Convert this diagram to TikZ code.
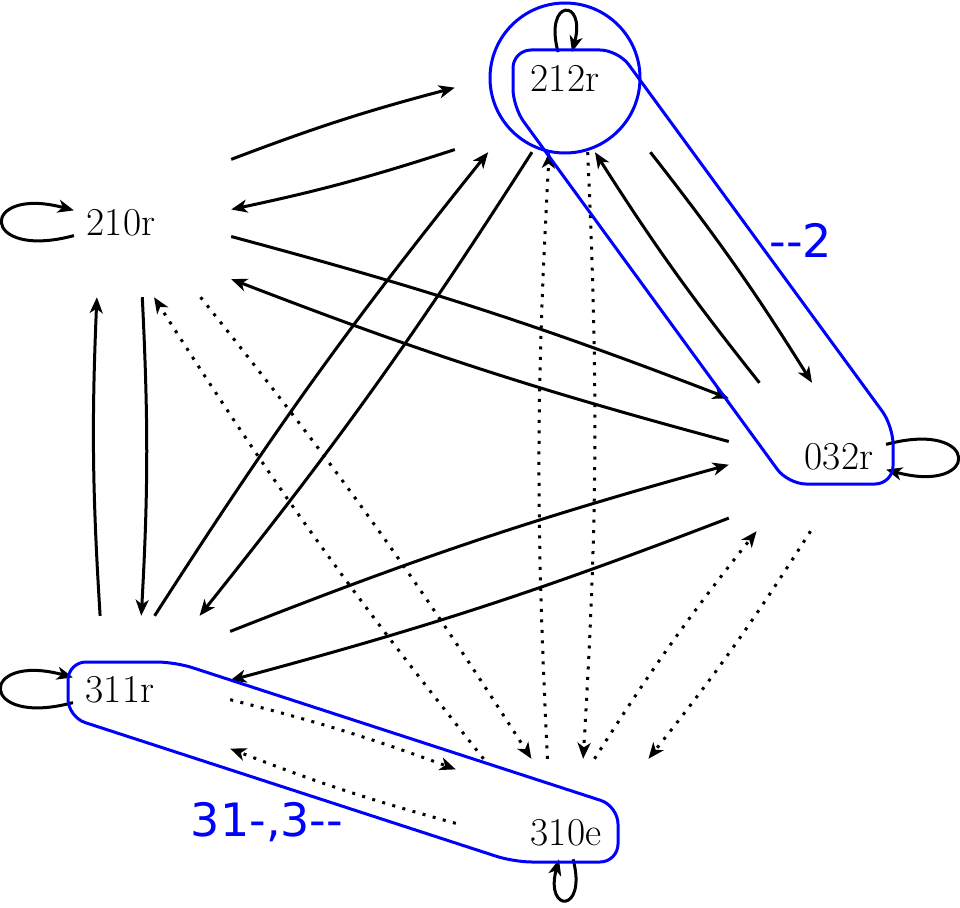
\documentclass[tikz,border=0pt]{standalone}
\usepackage{fontspec}
\newfontfamily\blufont{DejaVu Sans}
\usetikzlibrary{arrows.meta}
\begin{document}
\begin{tikzpicture}[x=1pt,y=-1pt,
  >={Stealth[length=16pt,width=13pt,inset=4.5pt]},
  st/.style={inner sep=12.7pt, font=\fontsize{39.5}{47}\selectfont},
  big/.style={draw=none, minimum width=220pt, minimum height=148pt, inner sep=0pt},
  arr/.style={line width=3pt, ->},
  dot/.style={arr, dash pattern=on 3pt off 7.5pt},
  hull/.style={draw=blue, line width=3pt, rounded corners=18pt},
  lbl/.style={text=blue, inner sep=0pt, font=\blufont\fontsize{46}{55}\selectfont},
  bl/.style={bend left=3},
  every loop/.style={looseness=10, min distance=56pt}
]
\useasboundingbox (0,0) rectangle (960,907);
% state labels
\node[st] (t212) at (565,78) {212r};
\node[st] (t210) at (121,223) {210r};
\node[st] (t032) at (839,457) {032r};
\node[st] (t311) at (120,690) {311r};
\node[st] (t310) at (566,833) {310e};
% invisible boxes used as edge ends
\node[big] (b212) at (t212.center) {};
\node[big] (b210) at (t210.center) {};
\node[big] (b032) at (t032.center) {};
\node[big] (b311) at (t311.center) {};
\node[big] (b310) at (t310.center) {};
% solid transitions
\draw[arr] (b210.30) to[bl] (b212.185);
\draw[arr] (b212.213) to[bl] (b210.7);
\draw[arr] (b210.-7) to[bl] (b032.152);
\draw[arr] (b032.172) to[bl] (b210.-27);
\draw[arr] (b210.-74) to[bl] (b311.74);
\draw[arr] (b311.105) to[bl] (b210.-108);
\draw[arr] (b212.-41) to[bl] (b032.110);
\draw[arr] (b032.137) to[bl] (b212.-68);
\draw[arr] (b212.246) to[bl] (b311.43);
\draw[arr] (b311.65) to[bl] (b212.224);
\draw[arr] (b032.209) to[bl] (b311.5);
\draw[arr] (b311.28) to[bl] (b032.184);
% dotted transitions
\draw[dot] (b310.138) to[bl] (b210.-66);
\draw[dot] (b210.-43) to[bl] (b310.115);
\draw[dot] (b310.104) to[bl] (b212.-102);
\draw[dot] (b212.-73) to[bl] (b310.77);
\draw[dot] (b310.69) to[bl] (b032.222);
\draw[dot] (b032.249) to[bl] (b310.42);
\draw[dot] (b311.-5) to[bl] (b310.150);
\draw[dot] (b310.175) to[bl] (b311.-28);
% loops
\draw (t210) edge[arr, loop left] ();
\draw (t311) edge[arr, loop left] ();
\draw (t212) edge[arr, loop above] ();
\draw (t032) edge[arr, loop right] ();
\draw (t310) edge[arr, loop below] ();
% blue groupings
\draw[blue, line width=3pt] (t212.center) circle[radius=75pt];
\draw[hull] (560,50) -- (618,50) -- (893,426) -- (893,484) -- (788,484) -- (513,107) -- (513,50) -- cycle;
\draw[hull] (120,662) -- (175,662) -- (618,806) -- (618,862) -- (514,862) -- (68,717) -- (68,662) -- cycle;
\node[lbl, anchor=base] (l2) at (801,257) {-\kern0pt-2};
\node[lbl, anchor=base] (l3) at (267,836) {31-,3-\kern0pt-};
\end{tikzpicture}
\end{document}
